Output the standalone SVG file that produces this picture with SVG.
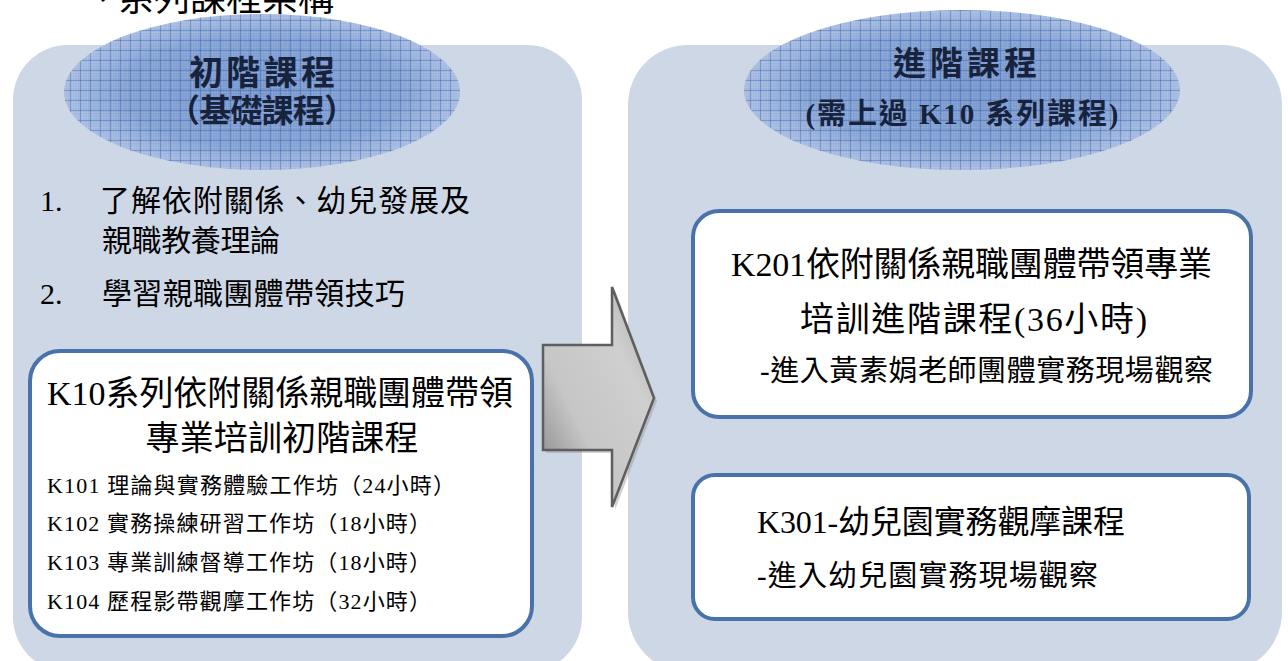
<svg xmlns="http://www.w3.org/2000/svg" width="1288" height="661" viewBox="0 0 1288 661">
<style>
.panel{fill:#CED7E6}
.box{fill:#FFFFFF;stroke:#4A72AA;stroke-width:4}
.t{font-family:"Liberation Serif","Noto Sans CJK TC",serif;fill:#000}
.h{font-family:"Liberation Serif","Noto Sans CJK TC",serif;font-weight:bold;fill:#17233D}
.ttl{font-family:"Noto Sans CJK TC",sans-serif;fill:#000}
</style>
<defs>
<pattern id="grid" width="10" height="10" patternUnits="userSpaceOnUse">
<rect width="10" height="10" fill="none"/>
<path d="M0 2.5H10M0 5H10M0 7.5H10M2.5 0V10M5 0V10M7.5 0V10" stroke="#FFFFFF" stroke-opacity="0.12" stroke-width="0.8"/>
<path d="M0 0.5H10M0.5 0V10" stroke="#3A62A6" stroke-opacity="0.4" stroke-width="1"/>
</pattern>
<radialGradient id="ellFill" cx="0.5" cy="0.5" r="0.5">
<stop offset="0" stop-color="#7393CB"/>
<stop offset="0.7" stop-color="#7F9ED2"/>
<stop offset="1" stop-color="#A3B9E0"/>
</radialGradient>
<linearGradient id="arrowG" x1="0" y1="1" x2="1" y2="0">
<stop offset="0" stop-color="#7E7E7E"/>
<stop offset="0.35" stop-color="#C6C6C6"/>
<stop offset="0.7" stop-color="#CFCFCF"/>
<stop offset="1" stop-color="#A8A8A8"/>
</linearGradient>
</defs>
<rect width="1288" height="661" fill="#FFFFFF"/>
<text class="ttl" x="82" y="11" font-size="36">、系列課程架構</text>

<g id="panel-basic">
<rect class="panel" x="13" y="45" width="569" height="627" rx="55"/>
</g>
<g id="panel-advanced">
<rect class="panel" x="628" y="45" width="654" height="627" rx="60"/>
</g>

<g id="ellipse-basic">
<ellipse cx="262" cy="92" rx="198" ry="78" fill="url(#ellFill)"/>
<ellipse cx="262" cy="92" rx="198" ry="78" fill="url(#grid)"/>
<text class="h" x="262" y="85" font-size="34" text-anchor="middle" textLength="146">初階課程</text>
<text class="h" x="262" y="122" font-size="32" text-anchor="middle" textLength="188">（基礎課程）</text>
</g>

<g id="ellipse-advanced">
<ellipse cx="962" cy="90" rx="218" ry="80" fill="url(#ellFill)"/>
<ellipse cx="962" cy="90" rx="218" ry="80" fill="url(#grid)"/>
<text class="h" x="965" y="75" font-size="33" text-anchor="middle" textLength="144">進階課程</text>
<text class="h" x="962" y="124" font-size="29" text-anchor="middle" textLength="313">(需上過 K10 系列課程)</text>
</g>

<g id="goals">
<text class="t" x="40" y="211" font-size="30">1.</text>
<text class="t" x="100" y="211" font-size="30" textLength="370">了解依附關係、幼兒發展及</text>
<text class="t" x="102" y="251" font-size="30" textLength="178">親職教養理論</text>
<text class="t" x="40" y="304" font-size="30">2.</text>
<text class="t" x="102" y="304" font-size="30" textLength="303">學習親職團體帶領技巧</text>
</g>

<g id="k10">
<rect class="box" x="30" y="351" width="502" height="285" rx="30"/>
<text class="t" x="47" y="405" font-size="34" textLength="466">K10系列依附關係親職團體帶領</text>
<text class="t" x="282" y="450" font-size="34" text-anchor="middle" textLength="273">專業培訓初階課程</text>
<text class="t" x="47" y="493" font-size="22" textLength="408">K101 理論與實務體驗工作坊（24小時）</text>
<text class="t" x="47" y="531" font-size="22" textLength="384">K102 實務操練研習工作坊（18小時）</text>
<text class="t" x="47" y="570" font-size="22" textLength="384">K103 專業訓練督導工作坊（18小時）</text>
<text class="t" x="47" y="609" font-size="22" textLength="384">K104 歷程影帶觀摩工作坊（32小時）</text>
</g>

<g id="k201">
<rect class="box" x="693" y="211" width="558" height="206" rx="26"/>
<text class="t" x="731" y="276" font-size="34" textLength="481">K201依附關係親職團體帶領專業</text>
<text class="t" x="800" y="331" font-size="34" textLength="347">培訓進階課程(36小時)</text>
<text class="t" x="760" y="381" font-size="29" textLength="453">-進入黃素娟老師團體實務現場觀察</text>
</g>

<g id="k301">
<rect class="box" x="693" y="475" width="556" height="144" rx="22"/>
<text class="t" x="757" y="533" font-size="32" textLength="368">K301-幼兒園實務觀摩課程</text>
<text class="t" x="757" y="586" font-size="29" textLength="341">-進入幼兒園實務現場觀察</text>
</g>

<g id="connectors">
<path d="M546 348 H615 V290 L657 401 L615 510 V453 H546 Z" fill="#9A9A9A" opacity="0.45"/>
<path d="M543 345 H612 V287 L654 398 L612 507 V450 H543 Z" fill="url(#arrowG)" stroke="#5E5E5E" stroke-width="2.5" stroke-linejoin="miter"/>
</g>
</svg>
